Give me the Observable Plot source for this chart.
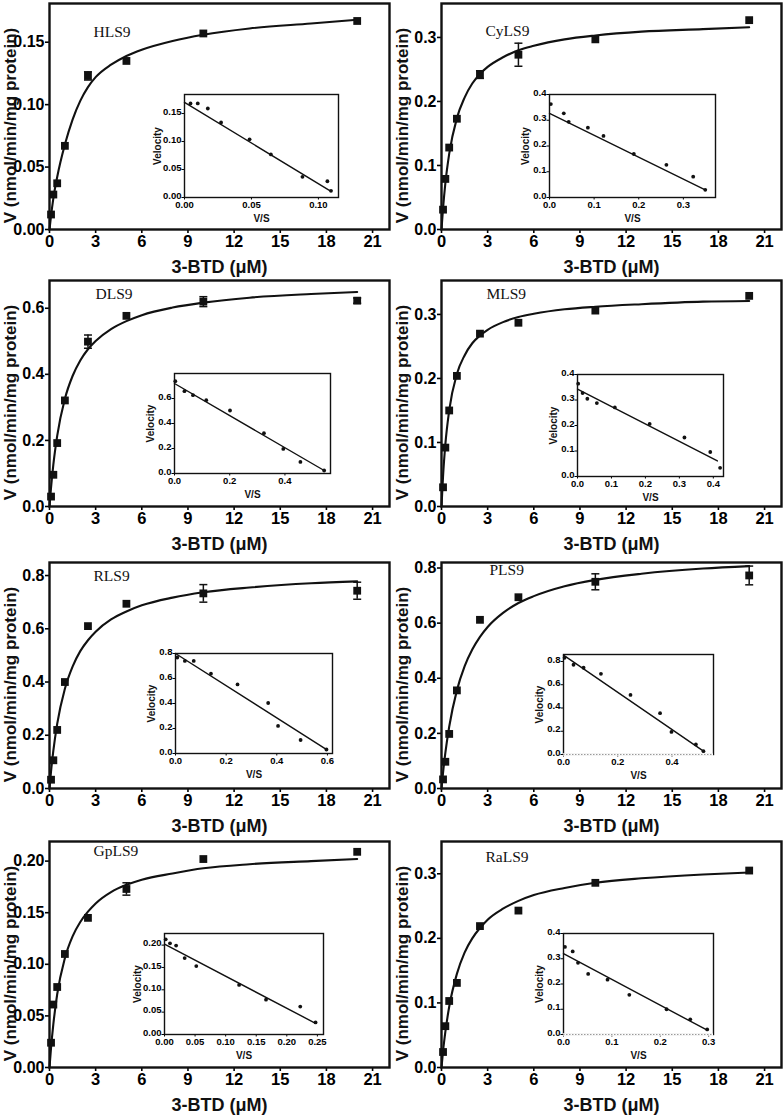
<!DOCTYPE html>
<html>
<head>
<meta charset="utf-8">
<script src="https://cdn.jsdelivr.net/npm/d3@7"></script>
<script src="https://cdn.jsdelivr.net/npm/@observablehq/plot@0.6"></script>
<style>
  html, body { margin: 0; padding: 0; background: #fff; }
  #root { position: relative; width: 784px; height: 1117px; overflow: hidden; background: #fff; }
  .cell { position: absolute; }
  .cell svg { overflow: visible; max-width: none !important; background: transparent !important; }
</style>
</head>
<body>
<div id="root"></div>
<script>
// ---------------- DATA ----------------
const panelNames = ["HLS9", "CyLS9", "DLS9", "MLS9", "RLS9", "PLS9", "GpLS9", "RaLS9"];
const xAxisLabel = "3-BTD (μM)";
const yAxisLabel = "V (nmol/min/mg protein)";
const insetXLabel = "V/S";
const insetYLabel = "Velocity";

// substrate concentrations of the measured points (µM)
const substrateUM = [0.1, 0.25, 0.5, 1, 2.5, 5, 10, 20];
const xTickValues = [0, 3, 6, 9, 12, 15, 18, 21];

// measured velocities and error bars (SD) per enzyme
const vHLS9  = [0.012, 0.028, 0.037, 0.067, 0.123, 0.135, 0.157, 0.167];
const eHLS9  = [0, 0, 0, 0, 0.0033, 0, 0, 0];
const vCyLS9 = [0.031, 0.079, 0.128, 0.173, 0.242, 0.273, 0.297, 0.327];
const eCyLS9 = [0, 0, 0, 0, 0.006, 0.018, 0, 0];
const vDLS9  = [0.030, 0.096, 0.192, 0.321, 0.499, 0.577, 0.620, 0.623];
const eDLS9  = [0, 0, 0, 0, 0.020, 0, 0.015, 0.008];
const vMLS9  = [0.030, 0.092, 0.150, 0.204, 0.270, 0.287, 0.306, 0.329];
const eMLS9  = [0, 0, 0, 0, 0, 0, 0, 0];
const vRLS9  = [0.033, 0.106, 0.220, 0.400, 0.610, 0.694, 0.733, 0.743];
const eRLS9  = [0, 0, 0, 0, 0, 0, 0.033, 0.032];
const vPLS9  = [0.033, 0.097, 0.198, 0.356, 0.612, 0.694, 0.750, 0.773];
const ePLS9  = [0, 0, 0, 0, 0, 0, 0.029, 0.034];
const vGpLS9 = [0.024, 0.061, 0.078, 0.110, 0.145, 0.173, 0.202, 0.209];
const eGpLS9 = [0, 0, 0, 0, 0, 0.006, 0, 0];
const vRaLS9 = [0.024, 0.064, 0.103, 0.131, 0.219, 0.243, 0.286, 0.305];
const eRaLS9 = [0, 0, 0, 0, 0, 0, 0, 0];

// fitted saturation curves, read at these substrate values
const curveS     = [0, 0.1, 0.25, 0.5, 1, 1.5, 2, 2.5, 3, 4, 5, 6, 8, 10, 13, 17, 20];
const curveHLS9  = [0, 0.011, 0.025, 0.042, 0.068, 0.088, 0.103, 0.114, 0.122, 0.132, 0.139, 0.144, 0.151, 0.156, 0.161, 0.165, 0.168];
const curveCyLS9 = [0, 0.033, 0.072, 0.118, 0.174, 0.206, 0.228, 0.243, 0.254, 0.269, 0.280, 0.287, 0.297, 0.303, 0.309, 0.313, 0.316];
const curveDLS9  = [0, 0.057, 0.127, 0.214, 0.326, 0.395, 0.442, 0.476, 0.501, 0.537, 0.561, 0.579, 0.602, 0.617, 0.632, 0.643, 0.649];
const curveMLS9  = [0, 0.047, 0.097, 0.150, 0.207, 0.236, 0.255, 0.267, 0.276, 0.288, 0.296, 0.301, 0.308, 0.312, 0.316, 0.320, 0.321];
const curveRLS9  = [0, 0.064, 0.142, 0.243, 0.375, 0.458, 0.516, 0.557, 0.589, 0.635, 0.665, 0.688, 0.717, 0.737, 0.755, 0.771, 0.778];
const curvePLS9  = [0, 0.057, 0.129, 0.224, 0.356, 0.443, 0.504, 0.550, 0.586, 0.637, 0.673, 0.698, 0.734, 0.757, 0.779, 0.798, 0.807];
const curveGpLS9 = [0, 0.019, 0.042, 0.071, 0.106, 0.127, 0.141, 0.151, 0.159, 0.170, 0.177, 0.182, 0.188, 0.193, 0.197, 0.200, 0.202];
const curveRaLS9 = [0, 0.025, 0.055, 0.094, 0.145, 0.178, 0.200, 0.216, 0.229, 0.246, 0.258, 0.267, 0.278, 0.286, 0.293, 0.299, 0.302];

// main y-axis ticks
const yTicksHLS9  = [0, 0.05, 0.10, 0.15];
const yTicksCyLS9 = [0, 0.1, 0.2, 0.3];
const yTicksDLS9  = [0, 0.2, 0.4, 0.6];
const yTicksMLS9  = [0, 0.1, 0.2, 0.3];
const yTicksRLS9  = [0, 0.2, 0.4, 0.6, 0.8];
const yTicksPLS9  = [0, 0.2, 0.4, 0.6, 0.8];
const yTicksGpLS9 = [0, 0.05, 0.10, 0.15, 0.20];
const yTicksRaLS9 = [0, 0.1, 0.2, 0.3];

// inset (Eadie–Hofstee) points: V/S and velocity
const ixHLS9  = [0.0045, 0.0099, 0.0174, 0.0273, 0.0486, 0.0645, 0.0881, 0.1067, 0.1094];
const iyHLS9  = [0.168, 0.168, 0.159, 0.134, 0.104, 0.077, 0.037, 0.029, 0.012];
const ixCyLS9 = [0.003, 0.032, 0.043, 0.086, 0.121, 0.189, 0.262, 0.322, 0.349];
const iyCyLS9 = [0.363, 0.327, 0.294, 0.271, 0.239, 0.169, 0.127, 0.081, 0.030];
const ixDLS9  = [0.003, 0.036, 0.067, 0.115, 0.201, 0.324, 0.394, 0.456, 0.542];
const iyDLS9  = [0.739, 0.659, 0.627, 0.587, 0.504, 0.323, 0.197, 0.093, 0.024];
const ixMLS9  = [0.002, 0.015, 0.029, 0.057, 0.110, 0.2125, 0.315, 0.391, 0.420];
const iyMLS9  = [0.364, 0.327, 0.305, 0.288, 0.271, 0.206, 0.153, 0.096, 0.034];
const ixRLS9  = [0.007, 0.037, 0.072, 0.140, 0.245, 0.366, 0.405, 0.494, 0.596];
const iyRLS9  = [0.768, 0.741, 0.741, 0.639, 0.553, 0.404, 0.221, 0.108, 0.032];
const ixPLS9  = [0.004, 0.037, 0.074, 0.138, 0.247, 0.356, 0.398, 0.488, 0.516];
const iyPLS9  = [0.832, 0.772, 0.746, 0.694, 0.512, 0.355, 0.194, 0.087, 0.029];
const ixGpLS9 = [0.002, 0.009, 0.019, 0.033, 0.052, 0.122, 0.166, 0.222, 0.247];
const iyGpLS9 = [0.213, 0.204, 0.199, 0.171, 0.153, 0.111, 0.078, 0.0625, 0.027];
const ixRaLS9 = [0.003, 0.019, 0.030, 0.051, 0.091, 0.136, 0.213, 0.262, 0.297];
const iyRaLS9 = [0.347, 0.329, 0.284, 0.240, 0.217, 0.157, 0.100, 0.060, 0.020];

// inset regression lines (end points: V/S, velocity)
const lxHLS9  = [0, 0.1094]; const lyHLS9  = [0.170, 0.011];
const lxCyLS9 = [0, 0.349];  const lyCyLS9 = [0.327, 0.030];
const lxDLS9  = [0, 0.542];  const lyDLS9  = [0.720, 0.024];
const lxMLS9  = [0, 0.412];  const lyMLS9  = [0.343, 0.061];
const lxRLS9  = [0, 0.600];  const lyRLS9  = [0.800, 0.027];
const lxPLS9  = [0, 0.516];  const lyPLS9  = [0.855, 0.029];
const lxGpLS9 = [0, 0.247];  const lyGpLS9 = [0.202, 0.025];
const lxRaLS9 = [0, 0.297];  const lyRaLS9 = [0.320, 0.017];

// inset ticks
const ixTicksHLS9  = [0, 0.05, 0.10];             const iyTicksHLS9  = [0, 0.05, 0.10, 0.15];
const ixTicksCyLS9 = [0, 0.1, 0.2, 0.3];          const iyTicksCyLS9 = [0, 0.1, 0.2, 0.3, 0.4];
const ixTicksDLS9  = [0, 0.2, 0.4];               const iyTicksDLS9  = [0, 0.2, 0.4, 0.6];
const ixTicksMLS9  = [0, 0.1, 0.2, 0.3, 0.4];     const iyTicksMLS9  = [0, 0.1, 0.2, 0.3, 0.4];
const ixTicksRLS9  = [0, 0.2, 0.4, 0.6];          const iyTicksRLS9  = [0, 0.2, 0.4, 0.6, 0.8];
const ixTicksPLS9  = [0, 0.2, 0.4];               const iyTicksPLS9  = [0, 0.2, 0.4, 0.6, 0.8];
const ixTicksGpLS9 = [0, 0.05, 0.10, 0.15, 0.20, 0.25]; const iyTicksGpLS9 = [0, 0.05, 0.10, 0.15, 0.20];
const ixTicksRaLS9 = [0, 0.1, 0.2, 0.3];          const iyTicksRaLS9 = [0, 0.1, 0.2, 0.3, 0.4];

// ---------------- LAYOUT / STYLE ----------------
const SANS = "'Liberation Sans', Arial, Helvetica, sans-serif";
const SERIF = "'Liberation Serif', 'Times New Roman', serif";
const frameTops = [3, 280, 562, 841];
const frameH = 226;
const colX = [0, 392];
const MT = 3, MB = 55, ML = 49, MR = 3;

const panels = [
  {name: panelNames[0], v: vHLS9,  e: eHLS9,  c: curveHLS9,  yMax: 0.181, yTicks: yTicksHLS9,  yFmt: ".2f", ldx: 44, ldy: 29,
   inset: {ix: ixHLS9, iy: iyHLS9, lx: lxHLS9, ly: lyHLS9, xT: ixTicksHLS9, yT: iyTicksHLS9, xFmt: ".2f", yFmt: ".2f", xMax: 0.115, yMax: 0.184, box: [184, 94, 154, 103], dotted: false}},
  {name: panelNames[1], v: vCyLS9, e: eCyLS9, c: curveCyLS9, yMax: 0.353, yTicks: yTicksCyLS9, yFmt: ".1f", ldx: 44, ldy: 28,
   inset: {ix: ixCyLS9, iy: iyCyLS9, lx: lxCyLS9, ly: lyCyLS9, xT: ixTicksCyLS9, yT: iyTicksCyLS9, xFmt: ".1f", yFmt: ".1f", xMax: 0.372, yMax: 0.4, box: [549, 94, 166, 103], dotted: false}},
  {name: panelNames[2], v: vDLS9,  e: eDLS9,  c: curveDLS9,  yMax: 0.684, yTicks: yTicksDLS9,  yFmt: ".1f", ldx: 46, ldy: 14,
   inset: {ix: ixDLS9, iy: iyDLS9, lx: lxDLS9, ly: lyDLS9, xT: ixTicksDLS9, yT: iyTicksDLS9, xFmt: ".1f", yFmt: ".1f", xMax: 0.565, yMax: 0.8, box: [174, 373, 156, 100], dotted: false}},
  {name: panelNames[3], v: vMLS9,  e: eMLS9,  c: curveMLS9,  yMax: 0.353, yTicks: yTicksMLS9,  yFmt: ".1f", ldx: 45, ldy: 14,
   inset: {ix: ixMLS9, iy: iyMLS9, lx: lxMLS9, ly: lyMLS9, xT: ixTicksMLS9, yT: iyTicksMLS9, xFmt: ".1f", yFmt: ".1f", xMax: 0.43, yMax: 0.4, box: [577, 374, 146, 102], dotted: false}},
  {name: panelNames[4], v: vRLS9,  e: eRLS9,  c: curveRLS9,  yMax: 0.849, yTicks: yTicksRLS9,  yFmt: ".1f", ldx: 44, ldy: 14,
   inset: {ix: ixRLS9, iy: iyRLS9, lx: lxRLS9, ly: lyRLS9, xT: ixTicksRLS9, yT: iyTicksRLS9, xFmt: ".1f", yFmt: ".1f", xMax: 0.62, yMax: 0.8, box: [175, 653, 157, 100], dotted: false}},
  {name: panelNames[5], v: vPLS9,  e: ePLS9,  c: curvePLS9,  yMax: 0.82,  yTicks: yTicksPLS9,  yFmt: ".1f", ldx: 48, ldy: 8,
   inset: {ix: ixPLS9, iy: iyPLS9, lx: lxPLS9, ly: lyPLS9, xT: ixTicksPLS9, yT: iyTicksPLS9, xFmt: ".1f", yFmt: ".1f", xMax: 0.553, yMax: 0.86, box: [563, 654, 150, 100], dotted: true}},
  {name: panelNames[6], v: vGpLS9, e: eGpLS9, c: curveGpLS9, yMax: 0.219, yTicks: yTicksGpLS9, yFmt: ".2f", ldx: 44, ldy: 10,
   inset: {ix: ixGpLS9, iy: iyGpLS9, lx: lxGpLS9, ly: lyGpLS9, xT: ixTicksGpLS9, yT: iyTicksGpLS9, xFmt: ".2f", yFmt: ".2f", xMax: 0.26, yMax: 0.226, box: [164, 933, 159, 101], dotted: false}},
  {name: panelNames[7], v: vRaLS9, e: eRaLS9, c: curveRaLS9, yMax: 0.35,  yTicks: yTicksRaLS9, yFmt: ".1f", ldx: 44, ldy: 16,
   inset: {ix: ixRaLS9, iy: iyRaLS9, lx: lxRaLS9, ly: lyRaLS9, xT: ixTicksRaLS9, yT: iyTicksRaLS9, xFmt: ".1f", yFmt: ".1f", xMax: 0.31, yMax: 0.4, box: [563, 933, 150, 101], dotted: true}}
];

// horizontal cap symbol for error bars (half width = r)
const capSymbol = {
  draw(context, size) {
    const w = Math.sqrt(size / Math.PI);
    context.moveTo(-w, 0);
    context.lineTo(w, 0);
  }
};

const root = document.getElementById("root");

function place(svg, left, top, w) {
  const div = document.createElement("div");
  div.className = "cell";
  div.style.left = left + "px";
  div.style.top = top + "px";
  div.style.width = w + "px";
  div.appendChild(svg);
  root.appendChild(div);
}

function mainPlot(p) {
  const pts = substrateUM.map((s, i) => ({s, v: p.v[i], e: p.e[i]}));
  const errs = pts.filter(d => d.e > 0);
  const curve = curveS.map((s, i) => ({s, v: p.c[i]}));
  return Plot.plot({
    width: 392,
    height: MT + frameH + MB,
    marginLeft: ML, marginRight: MR, marginTop: MT, marginBottom: MB,
    style: {fontFamily: SANS, color: "#000", background: "transparent", overflow: "visible"},
    x: {domain: [0, 22.1]},
    y: {domain: [0, p.yMax]},
    marks: [
      Plot.axisX({ticks: xTickValues, tickFormat: d3.format("d"), tickSize: 4, tickPadding: 2, strokeWidth: 1.6,
                  fontSize: 16.5, fontWeight: "bold", fontFamily: SANS, label: null}),
      Plot.axisY({ticks: p.yTicks, tickFormat: d3.format(p.yFmt), tickSize: 4, tickPadding: 1, strokeWidth: 1.6,
                  fontSize: 16, fontWeight: "bold", fontFamily: SANS, label: null}),
      Plot.line(curve, {x: "s", y: "v", curve: "monotone-x", stroke: "#111", strokeWidth: 2.1}),
      Plot.ruleX(errs, {x: "s", y1: d => d.v - d.e, y2: d => d.v + d.e, stroke: "#111", strokeWidth: 1.5}),
      Plot.dot(errs, {x: "s", y: d => d.v + d.e, symbol: capSymbol, r: 4, stroke: "#111", strokeWidth: 1.5}),
      Plot.dot(errs, {x: "s", y: d => d.v - d.e, symbol: capSymbol, r: 4, stroke: "#111", strokeWidth: 1.5}),
      Plot.dot(pts, {x: "s", y: "v", symbol: "square", r: 4.4, fill: "#111", stroke: "none"}),
      Plot.frame({stroke: "#111", strokeWidth: 2.4}),
      Plot.text([p.name], {frameAnchor: "top-left", dx: p.ldx, dy: p.ldy, text: d => d, textAnchor: "start", lineAnchor: "middle",
                           fontFamily: SERIF, fontSize: 15.5, fill: "#111"}),
      Plot.text([xAxisLabel], {frameAnchor: "bottom", dy: 38, text: d => d, textAnchor: "middle", lineAnchor: "middle",
                               fontFamily: SANS, fontSize: 18, fontWeight: "bold", fill: "#111"}),
      Plot.text([yAxisLabel], {frameAnchor: "left", dx: -39, dy: 9, rotate: -90, text: d => d, textAnchor: "middle", lineAnchor: "middle",
                               fontFamily: SANS, fontSize: 17, fontWeight: "bold", fill: "#111"})
    ]
  });
}

const IML = 34, IMR = 6, IMT = 6, IMB = 30;

function insetPlot(q) {
  const pts = q.ix.map((x, i) => ({x, y: q.iy[i]}));
  const fit = q.lx.map((x, i) => ({x, y: q.ly[i]}));
  const w = q.box[2], h = q.box[3];
  const wideLabels = q.yFmt === ".2f";
  return Plot.plot({
    width: w + IML + IMR,
    height: h + IMT + IMB,
    marginLeft: IML, marginRight: IMR, marginTop: IMT, marginBottom: IMB,
    style: {fontFamily: SANS, color: "#000", background: "transparent", overflow: "visible"},
    x: {domain: [0, q.xMax]},
    y: {domain: [0, q.yMax]},
    marks: [
      Plot.axisX({ticks: q.xT, tickFormat: d3.format(q.xFmt), tickSize: 2.5, tickPadding: 1.5, strokeWidth: 1,
                  fontSize: 9.5, fontWeight: "bold", fontFamily: SANS, label: null}),
      // tick marks of the inset y axis
      Plot.axisY({ticks: q.yT, tickFormat: () => "", tickSize: 2.5, strokeWidth: 1, label: null}),
      // tick labels of the inset y axis, nudged up slightly so the corner labels do not collide
      Plot.axisY({ticks: q.yT, tickFormat: d3.format(q.yFmt), tickSize: 0, tickPadding: 3, dy: -2,
                  fontSize: 9.5, fontWeight: "bold", fontFamily: SANS, label: null}),
      Plot.frame({stroke: "#111", strokeWidth: 1.4}),
      q.dotted ? Plot.ruleY([0], {stroke: "#fff", strokeWidth: 2.4}) : null,
      q.dotted ? Plot.ruleY([0], {stroke: "#9a9a9a", strokeWidth: 1, strokeDasharray: "1.5,1.5"}) : null,
      Plot.line(fit, {x: "x", y: "y", stroke: "#111", strokeWidth: 1.4}),
      Plot.dot(pts, {x: "x", y: "y", r: 1.9, fill: "#111", stroke: "none"}),
      Plot.text([insetXLabel], {frameAnchor: "bottom", dy: 21, text: d => d, textAnchor: "middle", lineAnchor: "middle",
                                fontFamily: SANS, fontSize: 10, fontWeight: "bold", fill: "#111"}),
      Plot.text([insetYLabel], {frameAnchor: "left", dx: wideLabels ? -27 : -24, rotate: -90, text: d => d, textAnchor: "middle", lineAnchor: "middle",
                                fontFamily: SANS, fontSize: 10, fontWeight: "bold", fill: "#111"})
    ]
  });
}

panels.forEach((p, k) => {
  const col = k % 2, row = Math.floor(k / 2);
  const left = colX[col];
  const top = frameTops[row] - MT;
  place(mainPlot(p), left, top, 392);
});
panels.forEach((p) => {
  const q = p.inset;
  place(insetPlot(q), q.box[0] - IML, q.box[1] - IMT, q.box[2] + IML + IMR);
});
</script>
</body>
</html>
